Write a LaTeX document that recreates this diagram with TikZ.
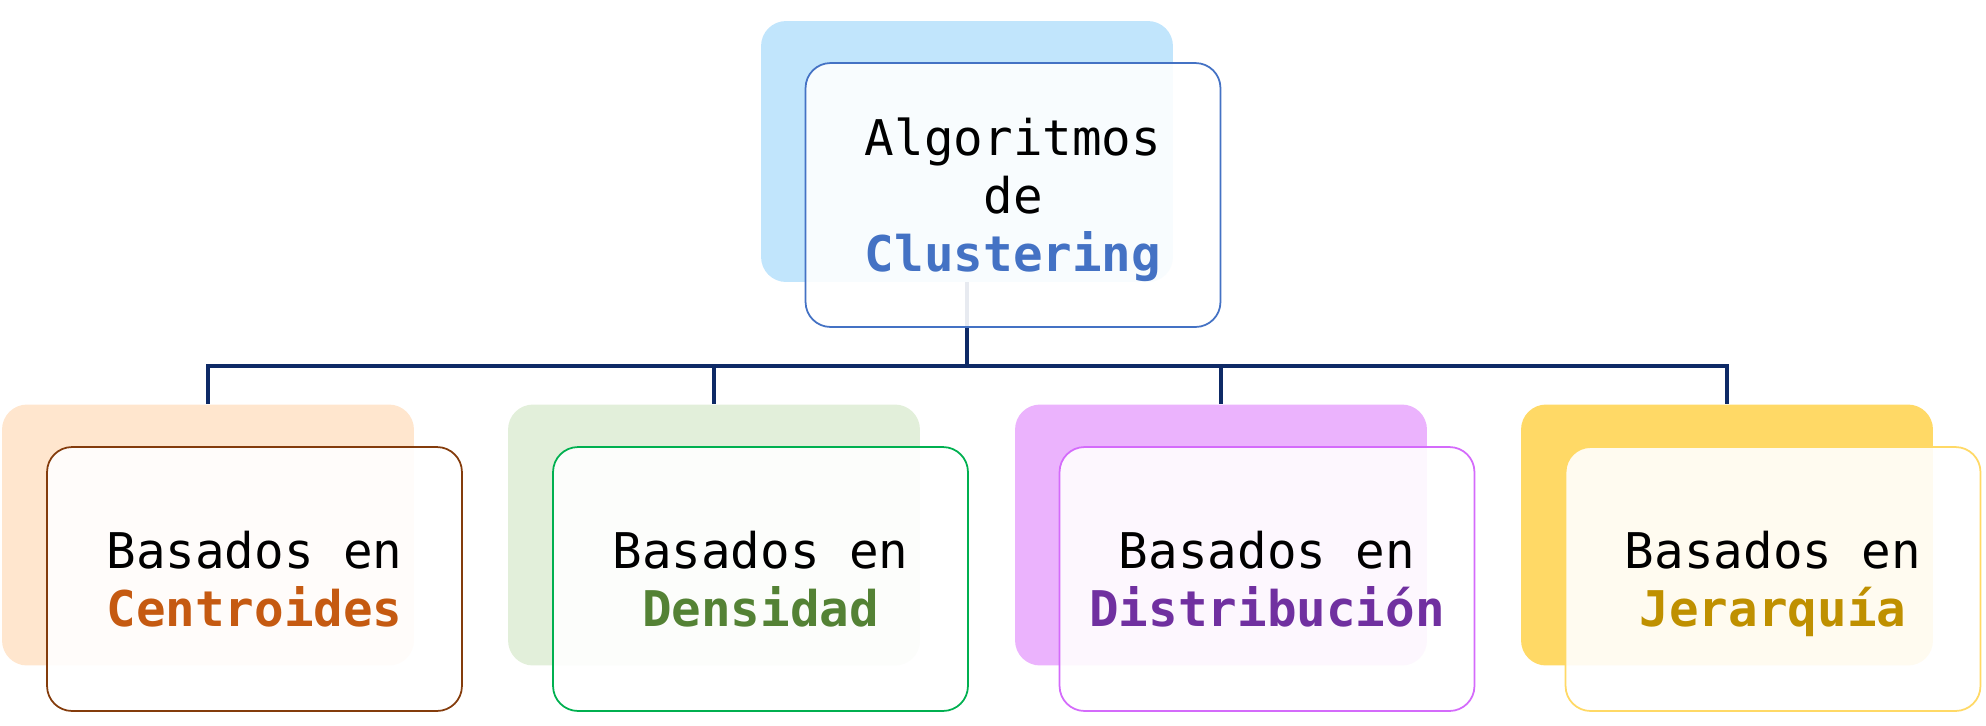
\documentclass[tikz,border=0pt]{standalone}
\usepackage{fontspec}
\setmonofont{DejaVu Sans Mono}
\usepackage{tikz}
\usetikzlibrary{positioning,calc}
\definecolor{clusterblue}{HTML}{4472C4}
\definecolor{clusterbg}{HTML}{C1E5FC}
\definecolor{centbg}{HTML}{FFE6CE}
\definecolor{centline}{HTML}{843C0C}
\definecolor{centtext}{HTML}{C55A11}
\definecolor{densbg}{HTML}{E2EFDA}
\definecolor{densline}{HTML}{00B050}
\definecolor{denstext}{HTML}{548235}
\definecolor{distbg}{HTML}{EBB3FD}
\definecolor{distline}{HTML}{D46BFB}
\definecolor{disttext}{HTML}{7030A0}
\definecolor{jerbg}{HTML}{FFD966}
\definecolor{jerline}{HTML}{FFD966}
\definecolor{jertext}{HTML}{BF9000}
\definecolor{busnavy}{HTML}{0E2A66}

\begin{document}
\begin{tikzpicture}[x=0.02cm, y=-0.02cm,
  back/.style={fill=#1, draw=none, rounded corners=0.5cm, inner sep=0pt,
    minimum width=8.24cm, minimum height=5.22cm},
  front/.style={draw=#1, line width=1pt, fill=white, fill opacity=0.9, text opacity=1,
    rounded corners=0.5cm, inner sep=0pt, minimum width=8.3cm, minimum height=5.28cm,
    align=center, text depth=0pt, font=\ttfamily\fontsize{28}{33}\selectfont},
  bus/.style={line width=2.3pt, busnavy},
]
\useasboundingbox (0,0) rectangle (1986,725);
% --- back plates ---
\node[back=clusterbg] (algbg) at (967,151.5) {};
\node[back=centbg] (centbg) at (208,535) {};
\node[back=densbg] (densbg) at (714,535) {};
\node[back=distbg] (distbg) at (1221,535) {};
\node[back=jerbg] (jerbg) at (1727,535) {};
% --- tree connectors ---
\coordinate (split) at (967,366);
\foreach \kid in {centbg,densbg,distbg,jerbg}
  \draw[bus] (algbg.south) -- (split) -| (\kid.north);
% --- front boxes ---
\node[front=clusterblue] (alg) at (1013,195)
  {Algoritmos\\de\\\textcolor{clusterblue}{\bfseries Clustering}};
\node[front=centline] (cent) at (254.5,579)
  {Basados en\\\textcolor{centtext}{\bfseries Centroides}};
\node[front=densline] (dens) at (760.5,579)
  {Basados en\\\textcolor{denstext}{\bfseries Densidad}};
\node[front=distline] (dist) at (1267,579)
  {Basados en\\\textcolor{disttext}{\bfseries Distribución}};
\node[front=jerline] (jer) at (1773,579)
  {Basados en\\\textcolor{jertext}{\bfseries Jerarquía}};
\end{tikzpicture}
\end{document}
